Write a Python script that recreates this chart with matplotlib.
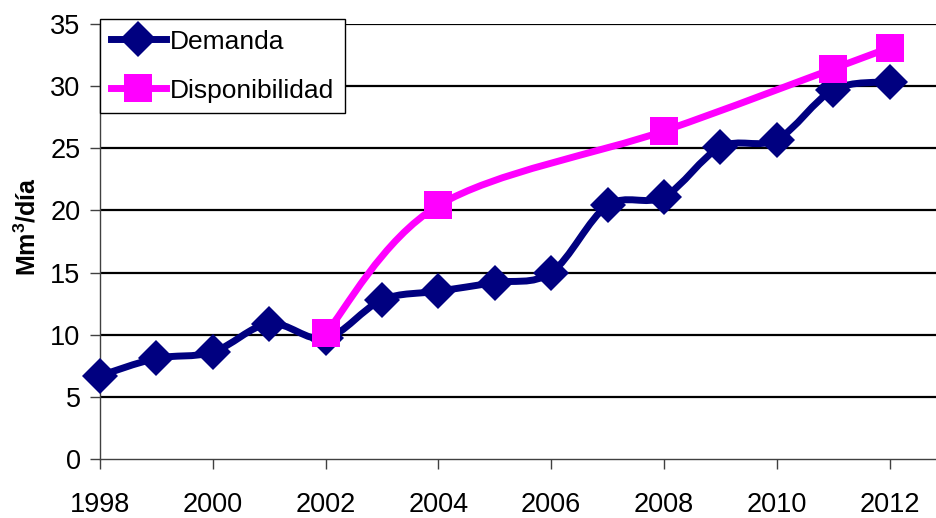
import numpy as np
import matplotlib
matplotlib.use("Agg")
import matplotlib.pyplot as plt
from matplotlib.path import Path
from matplotlib.patches import PathPatch
from matplotlib.lines import Line2D

plt.rcParams['font.family'] = ['Liberation Sans', 'DejaVu Sans']
plt.rcParams['mathtext.default'] = 'regular'

# Data
years_dem = [1998, 1999, 2000, 2001, 2002, 2003, 2004, 2005, 2006, 2007, 2008, 2009, 2010, 2011, 2012]
demanda = [6.7, 8.1, 8.6, 10.9, 9.7, 12.8, 13.5, 14.2, 15.0, 20.4, 21.1, 25.1, 25.7, 29.7, 30.35]
years_disp = [2002, 2004, 2008, 2011, 2012]
disponibilidad = [10.1, 20.4, 26.4, 31.4, 33.1]
xticks = [1998, 2000, 2002, 2004, 2006, 2008, 2010, 2012]
yticks = [0, 5, 10, 15, 20, 25, 30, 35]

NAVY = '#000080'
MAGENTA = '#FF00FF'


def smooth_path(x, y):
    pts = np.column_stack([x, y]).astype(float)
    n = len(pts)
    verts = [pts[0]]
    codes = [Path.MOVETO]
    for i in range(n - 1):
        p0 = pts[i - 1] if i > 0 else pts[i]
        p1 = pts[i]
        p2 = pts[i + 1]
        p3 = pts[i + 2] if i + 2 < n else pts[i + 1]
        c1 = p1 + (p2 - p0) / 6.0
        c2 = p2 - (p3 - p1) / 6.0
        verts += [c1, c2, p2]
        codes += [Path.CURVE4] * 3
    return Path(verts, codes)


fig = plt.figure(figsize=(9.36, 5.18), dpi=100)
ax = fig.add_axes([100 / 936, 59 / 518, 836 / 936, 435 / 518])
ax.set_xlim(1998, 1998 + 836 / 56.4)
ax.set_ylim(0, 35)

for s in ['top', 'right']:
    ax.spines[s].set_visible(False)
for s in ['left', 'bottom']:
    ax.spines[s].set_color('#404040')
    ax.spines[s].set_linewidth(1.0)

ax.set_yticks(yticks)
ax.set_xticks(xticks)
ax.tick_params(axis='both', direction='out', length=7, width=1.0, color='#404040',
               labelsize=19.5, labelcolor='black')
ax.tick_params(axis='y', pad=7)
ax.tick_params(axis='x', pad=17)
for yv in yticks[1:]:
    ax.axhline(yv, color='black', lw=1.6, zorder=1)

ax.set_ylabel('Mm$^{3}$/día', fontsize=18, fontweight='bold')
ax.yaxis.set_label_coords(-60 / 836, 0.535)

# Demanda
p1 = PathPatch(smooth_path(years_dem, demanda), fill=False, edgecolor=NAVY, lw=5,
               capstyle='round', joinstyle='round', zorder=3, clip_on=False)
ax.add_patch(p1)
ax.plot(years_dem, demanda, ls='none', marker='D', ms=18, color=NAVY,
        markeredgewidth=0, zorder=3.1, clip_on=False)

# Disponibilidad
p2 = PathPatch(smooth_path(years_disp, disponibilidad), fill=False, edgecolor=MAGENTA, lw=5,
               capstyle='round', joinstyle='round', zorder=3.2, clip_on=False)
ax.add_patch(p2)
ax.plot(years_disp, disponibilidad, ls='none', marker='s', ms=19.5, color=MAGENTA,
        markeredgewidth=0, zorder=3.3, clip_on=False)

handles = [Line2D([], [], color=NAVY, lw=5, marker='D', ms=18, markeredgewidth=0),
           Line2D([], [], color=MAGENTA, lw=5, marker='s', ms=19.5, markeredgewidth=0)]
leg = fig.legend(handles, ['Demanda', 'Disponibilidad'], loc='upper left',
                 bbox_to_anchor=(100 / 936, 1 - 19 / 518), borderaxespad=0,
                 fontsize=19, frameon=True, fancybox=False, framealpha=1,
                 edgecolor='black', handlelength=2.1, handletextpad=0.15,
                 borderpad=0.4, labelspacing=0.95)
leg.get_frame().set_linewidth(1.0)
leg.set_zorder(10)

fig.savefig('out.png', dpi=100)
